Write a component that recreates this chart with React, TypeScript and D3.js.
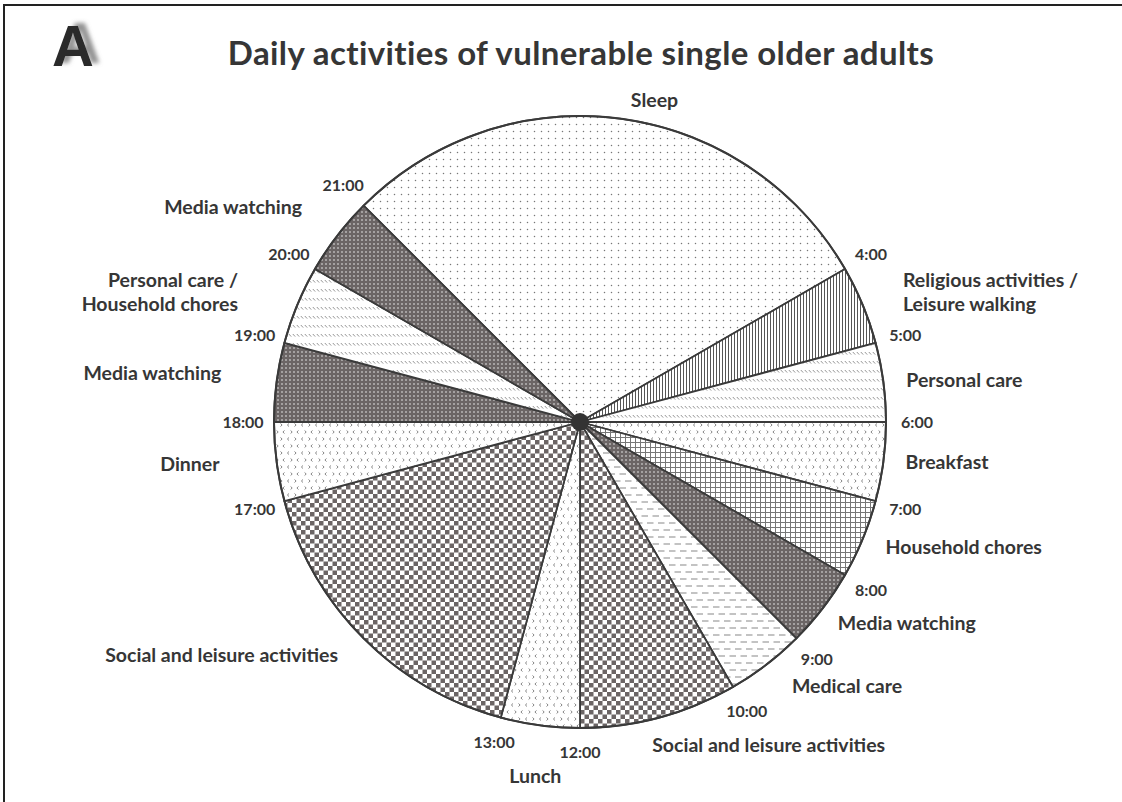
import React from 'react';
import * as d3 from 'd3';

// ---- data ----
const activities = [
  'Sleep',
  'Religious activities /|Leisure walking',
  'Personal care',
  'Breakfast',
  'Household chores',
  'Media watching',
  'Medical care',
  'Social and leisure activities',
  'Lunch',
  'Social and leisure activities',
  'Dinner',
  'Media watching',
  'Personal care /|Household chores',
  'Media watching',
];
const durations = [7, 1, 1, 1, 1, 1, 1, 2, 1, 4, 1, 1, 1, 1];
const patternIds = ['sleep', 'vlines', 'diag', 'chev', 'grid', 'dark', 'dash', 'check', 'chev', 'check', 'chev', 'dark', 'diag', 'dark'];
const startHour = 21;
const timeTicks = [4, 5, 6, 7, 8, 9, 10, 12, 13, 17, 18, 19, 20, 21];
const title = 'Daily activities of vulnerable single older adults';
const panelLetter = 'A';

// ---- layout (label placement, polar: hour angle + radius) ----
const labelLayout: { h: number; r: number; anchor: string }[] = [
  { h: 0.87, r: 330, anchor: 'middle' },
  { h: 4.54, r: 348, anchor: 'start' },
  { h: 5.51, r: 329, anchor: 'start' },
  { h: 6.47, r: 328, anchor: 'start' },
  { h: 7.48, r: 330, anchor: 'start' },
  { h: 8.53, r: 327, anchor: 'start' },
  { h: 9.42, r: 339, anchor: 'start' },
  { h: 11.16, r: 331, anchor: 'start' },
  { h: 12.48, r: 357, anchor: 'middle' },
  { h: 15.07, r: 336, anchor: 'end' },
  { h: 17.55, r: 363, anchor: 'end' },
  { h: 18.52, r: 362, anchor: 'end' },
  { h: 19.39, r: 366, anchor: 'end' },
  { h: 20.51, r: 351, anchor: 'end' },
];

const W = 1122;
const H = 802;
const cx = 580;
const cy = 422;
const R = 306;
const DARK = '#6b6565';
const TEXT = '#363636';
const FONT = 'Lato, "Open Sans", sans-serif';

export default function App() {
  const angle = d3.scaleLinear().domain([0, 24]).range([0, 2 * Math.PI]);
  const a0 = angle(startHour);
  const pie = d3
    .pie<number>()
    .sort(null)
    .value((d) => d)
    .startAngle(a0)
    .endAngle(a0 + 2 * Math.PI);
  const arcs = pie(durations);
  const arc = d3.arc<d3.PieArcDatum<number>>().innerRadius(0).outerRadius(R);

  return (
    <svg width={W} height={H} style={{ position: 'absolute', left: 0, top: 0, background: '#fff' }}>
      <defs>
        <filter id="shadow" x="-20%" y="-20%" width="160%" height="140%">
          <feDropShadow dx="7" dy="-3" stdDeviation="2.2" floodColor="#777" floodOpacity="0.8" />
        </filter>
        <pattern id="sleep" width="7" height="7" patternUnits="userSpaceOnUse">
          <rect width="7" height="7" fill="#fff" />
          <circle cx="3.5" cy="3.5" r="0.75" fill="#777" />
        </pattern>
        <pattern id="dark" width="4" height="4" patternUnits="userSpaceOnUse">
          <rect width="4" height="4" fill={DARK} />
          <circle cx="2" cy="2" r="0.8" fill="#eee" />
        </pattern>
        <pattern id="check" width="9" height="9" patternUnits="userSpaceOnUse">
          <rect width="9" height="9" fill="#fff" />
          <rect x="0" y="0" width="4.5" height="4.5" fill={DARK} />
          <rect x="4.5" y="4.5" width="4.5" height="4.5" fill={DARK} />
        </pattern>
        <pattern id="chev" width="14" height="14" patternUnits="userSpaceOnUse">
          <rect width="14" height="14" fill="#fff" />
          <path d="M3,1.5 L1.4,3 L3,4.5" fill="none" stroke="#777" strokeWidth="0.9" />
          <path d="M8.5,1.5 L10.1,3 L8.5,4.5" fill="none" stroke="#777" strokeWidth="0.9" />
          <path d="M4.6,8.5 L6.2,10 L4.6,11.5" fill="none" stroke="#777" strokeWidth="0.9" />
          <path d="M12.5,8.5 L10.9,10 L12.5,11.5" fill="none" stroke="#777" strokeWidth="0.9" />
        </pattern>
        <pattern id="grid" width="5" height="5" patternUnits="userSpaceOnUse">
          <rect width="5" height="5" fill="#fff" />
          <path d="M0,0.5 H5 M0.5,0 V5" stroke="#777" strokeWidth="1" />
        </pattern>
        <pattern id="diag" width="4" height="9" patternUnits="userSpaceOnUse">
          <rect width="4" height="9" fill="#fff" />
          <path d="M0.8,2 L3.2,4.6" stroke="#888" strokeWidth="0.9" />
        </pattern>
        <pattern id="vlines" width="3" height="3" patternUnits="userSpaceOnUse">
          <rect width="3" height="3" fill="#fff" />
          <path d="M1.5,0 V3" stroke="#555" strokeWidth="1" />
        </pattern>
        <pattern id="dash" width="11" height="14" patternUnits="userSpaceOnUse">
          <rect width="11" height="14" fill="#fff" />
          <path d="M1,3 H7.5 M6.5,10 H11 M0,10 H2" stroke="#888" strokeWidth="1" />
        </pattern>
      </defs>

      {/* frame */}
      <path d={`M4,${H} V5 H${W}`} fill="none" stroke="#222" strokeWidth={2} />

      {/* panel letter */}
      <text x={52} y={66} fontFamily='"Liberation Sans", Arial, sans-serif' fontWeight="bold" fontSize={58} fill="#2a2a2a" filter="url(#shadow)">
        {panelLetter}
      </text>

      {/* title */}
      <text x={581} y={65} textAnchor="middle" fontFamily={FONT} fontWeight="bold" fontSize={33} letterSpacing={0.4} fill={TEXT}>
        {title}
      </text>

      <g transform={`translate(${cx},${cy})`}>
        {arcs.map((d, i) => (
          <path key={i} d={arc(d) || ''} fill={`url(#${patternIds[i]})`} stroke="#3a3a3a" strokeWidth={1.8} strokeLinejoin="round" />
        ))}
        <circle r={R} fill="none" stroke="#3a3a3a" strokeWidth={2} />
        <circle r={9} fill="#333" />

        {/* time ticks */}
        {timeTicks.map((h) => {
          const a = angle(h);
          const [x, y] = d3.pointRadial(a, R + 24 + 7 * Math.abs(Math.sin(a)));
          return (
            <text key={h} x={x} y={y} dy="0.36em" textAnchor="middle" fontFamily={FONT} fontWeight="bold" fontSize={16} fill={TEXT}>
              {`${h}:00`}
            </text>
          );
        })}

        {/* activity labels */}
        {activities.map((name, i) => {
          const L = labelLayout[i];
          const [x, y] = d3.pointRadial(angle(L.h), L.r);
          const lines = name.split('|');
          const lh = 24;
          return (
            <text key={i} x={x} y={y} textAnchor={L.anchor} fontFamily={FONT} fontWeight="bold" fontSize={19.5} fill={TEXT}>
              {lines.map((ln, j) => (
                <tspan key={j} x={x} y={y + (j - (lines.length - 1) / 2) * lh} dy="0.35em">
                  {ln}
                </tspan>
              ))}
            </text>
          );
        })}
      </g>
    </svg>
  );
}
